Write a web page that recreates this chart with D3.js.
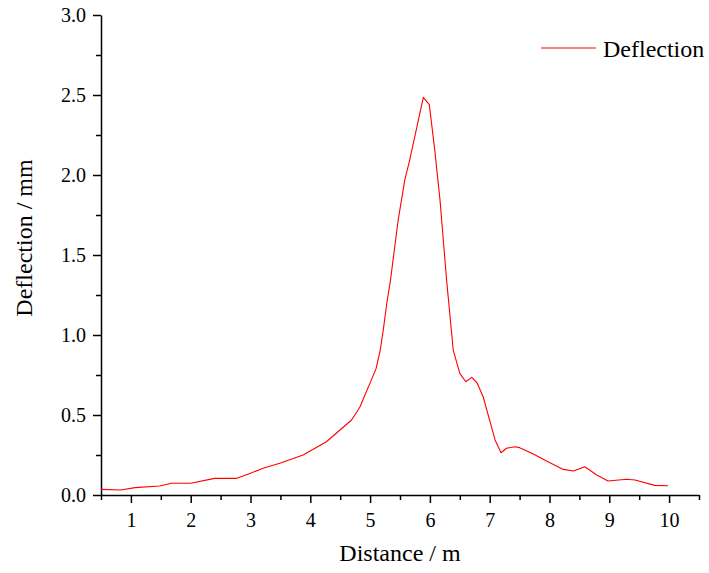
<!DOCTYPE html>
<html>
<head>
<meta charset="utf-8">
<script src="https://cdn.jsdelivr.net/npm/d3@7"></script>
<style>
  body { margin: 0; background: #fff; }
</style>
</head>
<body>
<svg id="chart" width="709" height="573" font-family="Liberation Serif"></svg>
<script>
// values
const distance = [0.5, 0.83, 1.07, 1.48, 1.68, 2.0, 2.4, 2.77, 2.99, 3.21, 3.49, 3.88, 4.27, 4.69,
                  4.83, 5.1, 5.17, 5.22, 5.28, 5.34, 5.47, 5.58, 5.66, 5.89, 5.99, 6.08, 6.17, 6.28,
                  6.39, 6.5, 6.6, 6.7, 6.79, 6.89, 7.09, 7.19, 7.28, 7.42, 7.5, 7.73, 7.95, 8.23,
                  8.4, 8.59, 8.79, 8.98, 9.29, 9.43, 9.76, 9.98];
const deflection = [0.035, 0.031, 0.046, 0.056, 0.073, 0.073, 0.104, 0.104, 0.135, 0.167, 0.198, 0.25, 0.333, 0.469,
                    0.55, 0.79, 0.906, 1.03, 1.2, 1.34, 1.72, 1.97, 2.09, 2.485, 2.44, 2.16, 1.84, 1.34,
                    0.906, 0.76, 0.708, 0.735, 0.7, 0.614, 0.344, 0.264, 0.292, 0.302, 0.296, 0.256, 0.2125, 0.16,
                    0.15, 0.177, 0.125, 0.0875, 0.098, 0.094, 0.06, 0.058];

const xMajor = [1, 2, 3, 4, 5, 6, 7, 8, 9, 10];
const xMinor = [0.5, 1.5, 2.5, 3.5, 4.5, 5.5, 6.5, 7.5, 8.5, 9.5, 10.5];
const yMajor = [0, 0.5, 1.0, 1.5, 2.0, 2.5, 3.0];
const yMinor = [0.25, 0.75, 1.25, 1.75, 2.25, 2.75];

const seriesName = "Deflection";
const xTitle = "Distance / m";
const yTitle = "Deflection / mm";

const serif = "Liberation Serif";

const svg = d3.select("#chart");

const x = d3.scaleLinear().domain([0.5, 10.5]).range([101, 699]);
const y = d3.scaleLinear().domain([0, 3]).range([495, 15]);

// minor ticks first, then the major ones with labels
svg.append("g")
    .attr("transform", `translate(0,${y(0)})`)
    .call(d3.axisBottom(x).tickValues(xMinor).tickSize(5).tickFormat(""))
    .call(g => g.select(".domain").remove());

svg.append("g")
    .attr("transform", `translate(0,${y(0)})`)
    .call(d3.axisBottom(x).tickValues(xMajor).tickSize(8).tickSizeOuter(0).tickPadding(10).tickFormat(d3.format("d")));

svg.append("g")
    .attr("transform", `translate(${x(0.5)},0)`)
    .call(d3.axisLeft(y).tickValues(yMinor).tickSize(5).tickFormat(""))
    .call(g => g.select(".domain").remove());

svg.append("g")
    .attr("transform", `translate(${x(0.5)},0)`)
    .call(d3.axisLeft(y).tickValues(yMajor).tickSize(8).tickSizeOuter(0).tickPadding(7).tickFormat(d3.format(".1f")));

svg.selectAll("g")
    .attr("font-family", serif)
    .attr("font-size", 20);

svg.selectAll(".tick line, .domain")
    .attr("stroke", "#000")
    .attr("stroke-width", 1.5);

svg.selectAll(".tick text")
    .attr("fill", "#000")
    .attr("font-family", serif)
    .attr("font-size", 20);

svg.append("text")
    .attr("x", 400)
    .attr("y", 561)
    .attr("text-anchor", "middle")
    .attr("font-family", serif)
    .attr("font-size", 24)
    .text(xTitle);

svg.append("text")
    .attr("transform", "translate(32,238) rotate(-90)")
    .attr("text-anchor", "middle")
    .attr("font-family", serif)
    .attr("font-size", 24)
    .text(yTitle);

const line = d3.line()
    .x((d, i) => x(distance[i]))
    .y((d) => y(d));

svg.append("path")
    .datum(deflection)
    .attr("fill", "none")
    .attr("stroke", "#ff0000")
    .attr("stroke-width", 1.1)
    .attr("stroke-linejoin", "round")
    .attr("d", line);

// legend
svg.append("line")
    .attr("x1", 541).attr("x2", 596)
    .attr("y1", 48).attr("y2", 48)
    .attr("stroke", "#ff0000")
    .attr("stroke-width", 1.1);

svg.append("text")
    .attr("x", 603)
    .attr("y", 57)
    .attr("font-family", serif)
    .attr("font-size", 24)
    .text(seriesName);
</script>
</body>
</html>
